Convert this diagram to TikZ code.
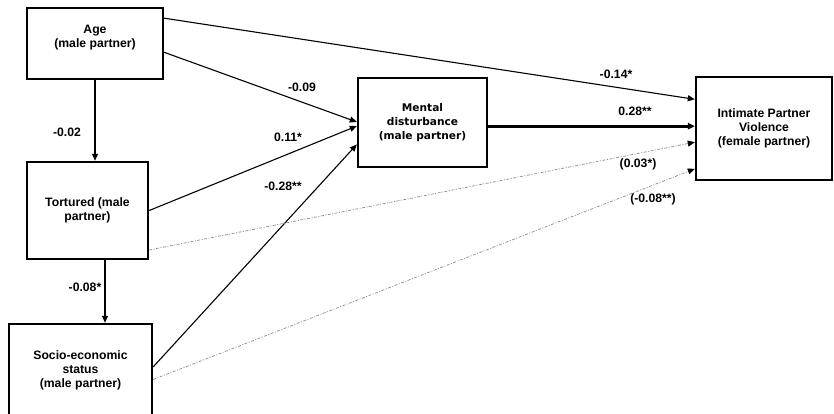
\documentclass[tikz,border=0pt]{standalone}
\usepackage{fontspec}
\setmainfont{Liberation Sans}
\newfontfamily\verdfont{DejaVu Sans}
\usetikzlibrary{arrows.meta,calc}

\begin{document}
\begin{tikzpicture}[
    x=1pt,y=-1pt,
    font=\bfseries\fontsize{12.2}{14}\selectfont,
    box/.style={draw,line width=2.4pt,align=center,inner sep=0pt},
    pathline/.style={line width=1.1pt,-{Triangle[length=7pt,width=6pt]}},
    boldline/.style={line width=3pt,-{Triangle[length=7pt,width=6.5pt]}},
    dimline/.style={draw=black!45,line width=.7pt,
      dash pattern=on 3pt off 1.5pt on 1pt off 1.5pt,
      -{Triangle[length=7pt,width=6pt,black]}},
    coef/.style={inner sep=1pt}
  ]
    \useasboundingbox (0,0) rectangle (834,413);
    \node[box,minimum width=136,minimum height=71,text depth=15pt] (age) at (95,43.5)
      {Age\\(male partner)};
    \node[box,minimum width=121,minimum height=97] (tort) at (87.5,210.5)
      {Tortured (male\\partner)};
    \node[box,minimum width=143,minimum height=92] (ses) at (80.5,370)
      {Socio-economic\\status\\(male partner)};
    \node[box,minimum width=129,minimum height=89,
      font=\verdfont\bfseries\fontsize{10.6}{14}\selectfont] (mental) at (422.5,122.5)
      {Mental\\disturbance\\(male partner)};
    \node[box,minimum width=136,minimum height=103] (ipv) at (764,128.5)
      {Intimate Partner\\Violence\\(female partner)};

    \draw[pathline] (age.south) -- (age.south |- tort.north);
    \draw[pathline] ([xshift=17.5]tort.south) -- ([xshift=17.5]tort.south |- ses.north);
    \draw[pathline] ($(age.north east)!.155!(age.south east)$)
      -- ($(ipv.north west)!.223!(ipv.south west)$);
    \draw[pathline] ($(age.north east)!.62!(age.south east)$)
      -- ($(mental.north west)!.494!(mental.south west)$);
    \draw[pathline] (tort.east)
      -- ($(mental.north west)!.539!(mental.south west)$);
    \draw[pathline] ($(ses.north east)!.467!(ses.south east)$)
      -- ($(mental.north west)!.74!(mental.south west)$);
    \coordinate (mout) at ($(mental.north east)!.54!(mental.south east)$);
    \draw[boldline] (mout) -- (mout -| ipv.west);
    \draw[dimline] ($(tort.north east)!.897!(tort.south east)$)
      -- ($(ipv.north west)!.63!(ipv.south west)$);
    \draw[dimline] ($(ses.north east)!.6!(ses.south east)$)
      -- ($(ipv.north west)!.883!(ipv.south west)$);

    \node[coef] (c-age-tort) at (67,132) {-0.02};
    \node[coef] (c-tort-ses) at (85,287) {-0.08*};
    \node[coef] (c-age-ment) at (302,87) {-0.09};
    \node[coef] (c-tort-ment) at (288,137) {0.11*};
    \node[coef] (c-ses-ment) at (283,186) {-0.28**};
    \node[coef] (c-age-ipv) at (616,74) {-0.14*};
    \node[coef] (c-ment-ipv) at (635,111) {0.28**};
    \node[coef] (c-tort-ipv) at (638,164) {(0.03*)};
    \node[coef] (c-ses-ipv) at (653,199) {(-0.08**)};
  \end{tikzpicture}
\end{document}
